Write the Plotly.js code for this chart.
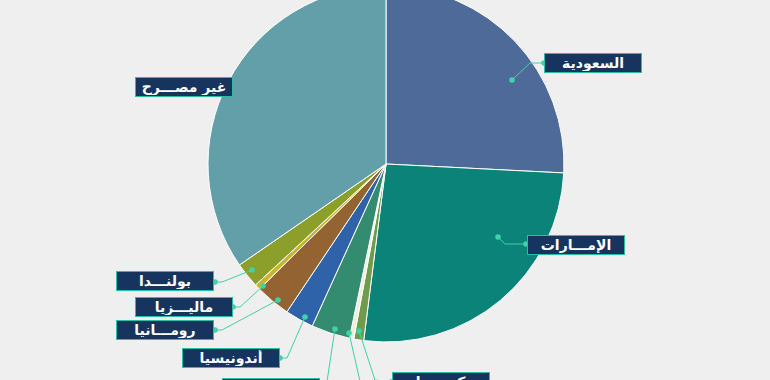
<!DOCTYPE html>
<html>
<head>
<meta charset="utf-8">
<script src="https://cdn.plot.ly/plotly-3.0.1.min.js"></script>
<style>
html,body{margin:0;padding:0;overflow:hidden;background:#efefef;width:770px;height:380px;}
#chart{position:absolute;left:0;top:-20px;width:770px;height:420px;}
</style>
</head>
<body>
<div id="chart"></div>
<script>
// ---- data ----
const countries = ["السعودية","الإمـــارات","كـــوريا","الصين","تركيا","أندونيسيا","رومـــانيا","ماليـــزيا","بولنـــدا","غير مصـــرح"];
const shares    = [25.8, 26.2, 0.9, 0.4, 3.5, 2.6, 3.2, 0.5, 2.3, 34.6];
const colors    = ["#4d6a98","#0b8378","#6f9c4c","#eeeedd","#338b70","#2e63aa","#946332","#c9b52e","#8c9f2b","#639fa9"];

// ---- label layout (window pixels): box centre, connector path ----
const labelLayout = [
  {box:[593,63],  path:[[512,80],[530,63],[544,63]]},
  {box:[576,245], path:[[498,237],[505,244],[526,244]]},
  {box:[441,382], path:[[359,331],[375,380],[391,382]]},
  {box:[441,410], path:[[349,333],[362,390]]},
  {box:[271,388], path:[[335,329],[326,388],[321,388]]},
  {box:[231,358], path:[[305,317],[287,358],[280,358]]},
  {box:[165,330], path:[[278,300],[222,330],[215,330]]},
  {box:[184,307], path:[[263,286],[240,307],[233,307]]},
  {box:[165,281], path:[[252,270],[222,282],[215,282]]},
  {box:[184,87],  path:null}
];

const W = 770, H = 420, OFF = 20;
const px = x => x / W;
const py = y => 1 - (y + OFF) / H;

const cx = 386, cy = 164, R = 178;

const shapes = [];
const annotations = [];
labelLayout.forEach((L, i) => {
  if (L.path) {
    let d = L.path.map((p, k) => (k ? "L" : "M") + px(p[0]).toFixed(5) + "," + py(p[1]).toFixed(5)).join(" ");
    shapes.push({type:"path", xref:"paper", yref:"paper", path:d, line:{color:"#3fd1a8", width:1}});
    [L.path[0], L.path[L.path.length-1]].forEach(p => {
      shapes.push({type:"circle", xref:"paper", yref:"paper",
        x0:px(p[0]-2.8), x1:px(p[0]+2.8), y0:py(p[1]+2.8), y1:py(p[1]-2.8),
        fillcolor:"#3fd1a8", line:{width:0}});
    });
  }
  annotations.push({
    xref:"paper", yref:"paper", x:px(L.box[0]), y:py(L.box[1]),
    xanchor:"center", yanchor:"middle", showarrow:false,
    text:"<b>" + countries[i] + "</b>", width:94, height:16, borderpad:1,
    bgcolor:"#16345d", bordercolor:"#2bbf9f", borderwidth:1,
    font:{family:"DejaVu Sans", size:14, color:"#ffffff"}
  });
});

const trace = {
  type:"pie",
  labels:countries,
  values:shares,
  sort:false,
  direction:"clockwise",
  rotation:0,
  textinfo:"none",
  hoverinfo:"label+percent",
  marker:{colors:colors, line:{color:"#ffffff", width:1}},
  domain:{x:[px(cx-R), px(cx+R)], y:[py(cy+R), py(cy-R)]},
  showlegend:false
};

Plotly.newPlot("chart", [trace], {
  width:W, height:H,
  margin:{l:0,r:0,t:0,b:0},
  paper_bgcolor:"#efefef",
  plot_bgcolor:"#efefef",
  showlegend:false,
  shapes:shapes,
  annotations:annotations
}, {displayModeBar:false, staticPlot:true});
</script>
</body>
</html>
